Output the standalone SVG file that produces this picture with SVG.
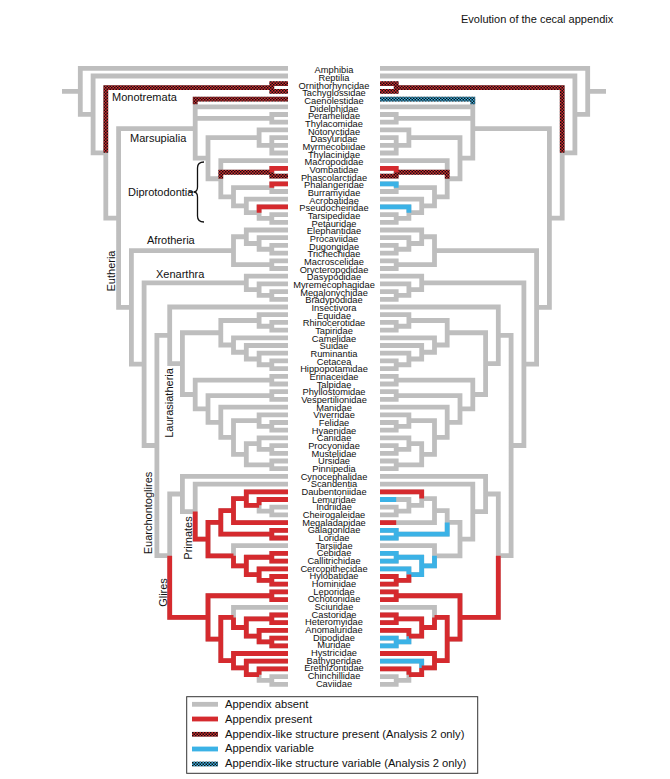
<svg xmlns="http://www.w3.org/2000/svg" xmlns:xlink="http://www.w3.org/1999/xlink" width="670" height="779" viewBox="0 0 670 779">
<style>
.br path,.br use{fill:none;stroke-width:4.8;stroke-linejoin:miter;stroke-linecap:butt}
.g{stroke:#bebebe}
.r{stroke:#d52a2e}
.b{stroke:#3bb2e6}
.cr{stroke:url(#pr)}
.cb{stroke:url(#pb)}
.tip text{font-family:"Liberation Sans",Arial,sans-serif;font-size:9.3px;fill:#111;text-anchor:middle}
.lab{font-family:"Liberation Sans",Arial,sans-serif;font-size:11px;fill:#111}
.leg{font-family:"Liberation Sans",Arial,sans-serif;font-size:11.2px;fill:#111}
</style>
<defs>
<pattern id="pr" width="3" height="3" patternUnits="userSpaceOnUse"><rect width="3" height="3" fill="#d52a2e"/><rect width="1.5" height="1.5" fill="#111"/><rect x="1.5" y="1.5" width="1.5" height="1.5" fill="#111"/></pattern>
<pattern id="pb" width="3" height="3" patternUnits="userSpaceOnUse"><rect width="3" height="3" fill="#3bb2e6"/><rect width="1.5" height="1.5" fill="#111"/><rect x="1.5" y="1.5" width="1.5" height="1.5" fill="#111"/></pattern>
<path id="tree" d="M62 91.35H80.3M80.3 91.35V68.3H288M80.3 91.35V114.4H93.1M93.1 114.4V76H288M93.1 114.4V152.8H105.8M105.8 152.8V87.55H271.8M105.8 152.8V218.05H118.6M271.8 87.55V83.7H288M271.8 87.55V91.4H288
M118.6 218.05V128.65H195.2M118.6 218.05V307.45H131.4
M195.2 128.65V99.1H288M195.2 128.65V106.8H288M195.2 128.65V118.35H271.8M195.2 128.65V158.2H208M271.8 118.35V114.5H288M271.8 118.35V122.2H288
M208 158.2V137.6H259.1M208 158.2V178.75H220.8M259.1 137.6V129.9H288M259.1 137.6V145.3H271.8M271.8 145.3V137.6H288M271.8 145.3H288M271.8 145.3V153H288
M220.8 178.75V160.7H288M220.8 178.75V172.25H271.8M220.8 178.75V196.8H233.5M271.8 172.25V168.4H288M271.8 172.25V176.1H288
M233.5 196.8V187.65H271.8M233.5 196.8V205.9H246.3M271.8 187.65V183.8H288M271.8 187.65V191.5H288M246.3 205.9V199.2H288M246.3 205.9V212.7H259.1M259.1 212.7V206.9H288M259.1 212.7V218.45H271.8M271.8 218.45V214.6H288M271.8 218.45V222.3H288
M131.4 307.45V250.7H233.5M131.4 307.45V364.2H144.1
M233.5 250.7V236.75H246.3M233.5 250.7V264.65H271.8M246.3 236.75V230H288M246.3 236.75V243.5H259.1M259.1 243.5V237.7H288M259.1 243.5V249.25H271.8M271.8 249.25V245.4H288M271.8 249.25V253.1H288M271.8 264.65V260.8H288M271.8 264.65V268.5H288
M144.1 364.2V282.95H246.3M144.1 364.2V445.5H156.9
M246.3 282.95V276.2H288M246.3 282.95V289.7H259.1M259.1 289.7V283.9H288M259.1 289.7V295.45H271.8M271.8 295.45V291.6H288M271.8 295.45V299.3H288
M156.9 445.5V335.3H169.7M156.9 445.5V555.7H169.7
M169.7 335.3V307H288M169.7 335.3V363.6H182.4M182.4 363.6V332.75H220.8M182.4 363.6V394.5H195.2
M220.8 332.75V320.5H259.1M220.8 332.75V345H233.5M259.1 320.5V314.7H288M259.1 320.5V326.25H271.8M271.8 326.25V322.4H288M271.8 326.25V330.1H288
M233.5 345V337.8H288M233.5 345V352.25H246.3M246.3 352.25V345.5H288M246.3 352.25V359H259.1M259.1 359V353.2H288M259.1 359V364.75H271.8M271.8 364.75V360.9H288M271.8 364.75V368.6H288
M195.2 394.5V380.15H271.8M195.2 394.5V408.9H208M271.8 380.15V376.3H288M271.8 380.15V384H288
M208 408.9V395.55H271.8M208 408.9V422.3H220.8M271.8 395.55V391.7H288M271.8 395.55V399.4H288
M220.8 422.3V407.1H288M220.8 422.3V437.45H233.5
M233.5 437.45V420.6H259.1M233.5 437.45V454.3H246.3M259.1 420.6V414.8H288M259.1 420.6V426.35H271.8M271.8 426.35V422.5H288M271.8 426.35V430.2H288
M246.3 454.3V443.7H259.1M246.3 454.3V464.85H271.8M259.1 443.7V437.9H288M259.1 443.7V449.45H271.8M271.8 449.45V445.6H288M271.8 449.45V453.3H288M271.8 464.85V461H288M271.8 464.85V468.7H288
M169.7 555.7V494H182.4M169.7 555.7V617.4H208
M182.4 494V476.4H288M182.4 494V511.6H195.2M195.2 511.6V484.1H288M195.2 511.6V539.1H208
M208 539.1V522.4H220.8M208 539.1V555.8H233.5M220.8 522.4V510.6H233.5M220.8 522.4V534.15H271.8
M233.5 510.6V498.55H246.3M233.5 510.6V522.6H288M246.3 498.55V491.8H288M246.3 498.55V505.3H259.1M259.1 505.3V499.5H288M259.1 505.3V511.05H271.8M271.8 511.05V507.2H288M271.8 511.05V514.9H288M271.8 534.15V530.3H288M271.8 534.15V538H288
M233.5 555.8V545.7H288M233.5 555.8V565.9H246.3M246.3 565.9V557.25H271.8M246.3 565.9V574.6H259.1M271.8 557.25V553.4H288M271.8 557.25V561.1H288M259.1 574.6V568.8H288M259.1 574.6V580.35H271.8M271.8 580.35V576.5H288M271.8 580.35V584.2H288
M208 617.4V595.75H271.8M208 617.4V639.05H220.8M271.8 595.75V591.9H288M271.8 595.75V599.6H288
M220.8 639.05V617.4H233.5M220.8 639.05V660.7H233.5M233.5 617.4V607.3H288M233.5 617.4V627.5H246.3
M246.3 627.5V618.85H271.8M246.3 627.5V636.2H259.1M271.8 618.85V615H288M271.8 618.85V622.7H288M259.1 636.2V630.4H288M259.1 636.2V641.95H271.8M271.8 641.95V638.1H288M271.8 641.95V645.8H288
M233.5 660.7V653.5H288M233.5 660.7V667.95H246.3M246.3 667.95V661.2H288M246.3 667.95V674.7H259.1M259.1 674.7V668.9H288M259.1 674.7V680.45H271.8M271.8 680.45V676.6H288M271.8 680.45V684.3H288"/>
</defs>
<rect width="670" height="779" fill="#fff"/>
<text x="461" y="22.5" class="lab" fill="#222">Evolution of the cecal appendix</text>

<g id="connectors" class="br">
 <g id="left-tree">
  <use xlink:href="#tree" class="g"/>
  <path class="cr" d="M105.8 152.8V87.55H271.8M271.8 87.55V83.7H288M271.8 87.55V91.4H288M195.2 104.3V99.1H288M220.8 178.75V172.25H271.8M271.8 172.25V176.1H288"/>
  <path class="r" d="M271.8 172.25V168.4H288M271.8 187.65V183.8H288M259.1 212.7V206.9H288
M195.2 511.6V539.1H208M208 539.1V522.4H220.8M208 539.1V555.8H233.5M220.8 522.4V510.6H233.5M220.8 522.4V534.15H271.8M233.5 510.6V498.55H246.3M233.5 510.6V522.6H288M246.3 498.55V491.8H288M246.3 498.55V505.3H259.1M259.1 505.3V499.5H288M271.8 534.15V530.3H288M271.8 534.15V538H288
M233.5 555.8V565.9H246.3M246.3 565.9V557.25H271.8M246.3 565.9V574.6H259.1M271.8 557.25V553.4H288M271.8 557.25V561.1H288M259.1 574.6V568.8H288M259.1 574.6V580.35H271.8M271.8 580.35V576.5H288M271.8 580.35V584.2H288
M169.7 555.7V617.4H208M208 617.4V595.75H271.8M208 617.4V639.05H220.8M271.8 595.75V591.9H288M271.8 595.75V599.6H288M220.8 639.05V617.4H233.5M220.8 639.05V660.7H233.5M233.5 617.4V627.5H246.3M246.3 627.5V618.85H271.8M246.3 627.5V636.2H259.1M271.8 618.85V615H288M271.8 618.85V622.7H288M259.1 636.2V630.4H288M259.1 636.2V641.95H271.8M271.8 641.95V638.1H288M271.8 641.95V645.8H288M233.5 660.7V653.5H288M233.5 660.7V667.95H246.3M246.3 667.95V661.2H288M246.3 667.95V674.7H259.1M259.1 674.7V668.9H288"/>
 </g>
 <g id="right-tree" transform="matrix(-1 0 0 1 668 0)">
  <use xlink:href="#tree" class="g"/>
  <path class="cr" d="M105.8 152.8V87.55H271.8M271.8 87.55V83.7H288M271.8 87.55V91.4H288M220.8 178.75V172.25H271.8M271.8 172.25V176.1H288"/>
  <path class="cb" d="M195.2 104.3V99.1H288"/>
  <path class="b" d="M271.8 187.65V183.8H288M259.1 212.7V206.9H288M271.8 499.5H288M220.8 522.4V534.15H271.8M271.8 534.15V530.3H288M271.8 534.15V538H288M233.5 555.8V565.9H246.3M246.3 565.9V557.25H271.8M271.8 557.25V553.4H288M271.8 557.25V561.1H288M246.3 565.9V574.6H259.1M259.1 574.6V568.8H288M259.1 636.2V641.95H271.8M271.8 641.95V638.1H288M271.8 641.95V645.8H288M246.3 667.95V661.2H288"/>
  <path class="r" d="M271.8 172.25V168.4H288M246.3 498.55V491.8H288M271.8 522.6H288M259.1 574.6V580.35H271.8M271.8 580.35V576.5H288M271.8 580.35V584.2H288
M169.7 555.7V617.4H208M208 617.4V595.75H271.8M208 617.4V639.05H220.8M271.8 595.75V591.9H288M271.8 595.75V599.6H288M220.8 639.05V617.4H233.5M220.8 639.05V660.7H233.5M233.5 617.4V627.5H246.3M246.3 627.5V618.85H271.8M246.3 627.5V636.2H259.1M271.8 618.85V615H288M271.8 618.85V622.7H288M259.1 636.2V630.4H288M233.5 660.7V653.5H288M233.5 660.7V667.95H246.3M246.3 667.95V674.7H259.1M259.1 674.7V668.9H288"/>
 </g>
 <path d="M188.5 192H193M204 162Q197.5 162 197.5 168V187Q197.5 192 193.5 192Q197.5 192 197.5 197V216Q197.5 222 204 222" style="stroke:#111;stroke-width:1.3"/>
</g>

<g id="clade-labels" class="lab">
 <text id="Monotremata" x="112" y="101" class="lab">Monotremata</text>
 <text id="Marsupialia" x="130" y="142" class="lab">Marsupialia</text>
 <text id="Diprotodontia" x="128" y="196" class="lab">Diprotodontia</text>
 <text id="Afrotheria" x="147" y="244" class="lab">Afrotheria</text>
 <text id="Xenarthra" x="156" y="278" class="lab">Xenarthra</text>
 <text id="Eutheria" transform="translate(115 271) rotate(-90)" text-anchor="middle" class="lab">Eutheria</text>
 <text id="Laurasiatheria" transform="translate(173 403) rotate(-90)" text-anchor="middle" class="lab">Laurasiatheria</text>
 <text id="Euarchontoglires" transform="translate(151.5 513) rotate(-90)" text-anchor="middle" class="lab">Euarchontoglires</text>
 <text id="Primates" transform="translate(192 538) rotate(-90)" text-anchor="middle" class="lab">Primates</text>
 <text id="Glires" transform="translate(167 592.5) rotate(-90)" text-anchor="middle" class="lab">Glires</text>
</g>

<g class="tip">
<g id="Amphibia"><text x="334" y="73.3">Amphibia</text></g>
<g id="Reptilia"><text x="334" y="81">Reptilia</text></g>
<g id="Ornithorhyncidae"><text x="334" y="88.6">Ornithorhyncidae</text></g>
<g id="Tachyglossidae"><text x="334" y="96.3">Tachyglossidae</text></g>
<g id="Caenolestidae"><text x="334" y="104">Caenolestidae</text></g>
<g id="Didelphidae"><text x="334" y="111.6">Didelphidae</text></g>
<g id="Peramelidae"><text x="334" y="119.3">Peramelidae</text></g>
<g id="Thylacomidae"><text x="334" y="127">Thylacomidae</text></g>
<g id="Notoryctidae"><text x="334" y="134.6">Notoryctidae</text></g>
<g id="Dasyuridae"><text x="334" y="142.3">Dasyuridae</text></g>
<g id="Myrmecobiidae"><text x="334" y="150">Myrmecobiidae</text></g>
<g id="Thylacinidae"><text x="334" y="157.6">Thylacinidae</text></g>
<g id="Macropodidae"><text x="334" y="165.3">Macropodidae</text></g>
<g id="Vombatidae"><text x="334" y="172.9">Vombatidae</text></g>
<g id="Phascolarctidae"><text x="334" y="180.6">Phascolarctidae</text></g>
<g id="Phalangeridae"><text x="334" y="188.3">Phalangeridae</text></g>
<g id="Burramyidae"><text x="334" y="195.9">Burramyidae</text></g>
<g id="Acrobatidae"><text x="334" y="203.6">Acrobatidae</text></g>
<g id="Pseudocheiridae"><text x="334" y="211.3">Pseudocheiridae</text></g>
<g id="Tarsipedidae"><text x="334" y="218.9">Tarsipedidae</text></g>
<g id="Petauridae"><text x="334" y="226.6">Petauridae</text></g>
<g id="Elephantidae"><text x="334" y="234.3">Elephantidae</text></g>
<g id="Procaviidae"><text x="334" y="241.9">Procaviidae</text></g>
<g id="Dugongidae"><text x="334" y="249.6">Dugongidae</text></g>
<g id="Trichechidae"><text x="334" y="257.3">Trichechidae</text></g>
<g id="Macroscelidae"><text x="334" y="264.9">Macroscelidae</text></g>
<g id="Orycteropodidae"><text x="334" y="272.6">Orycteropodidae</text></g>
<g id="Dasypodidae"><text x="334" y="280.3">Dasypodidae</text></g>
<g id="Myremecophagidae"><text x="334" y="287.9">Myremecophagidae</text></g>
<g id="Megalonychidae"><text x="334" y="295.6">Megalonychidae</text></g>
<g id="Bradypodidae"><text x="334" y="303.3">Bradypodidae</text></g>
<g id="Insectivora"><text x="334" y="310.9">Insectivora</text></g>
<g id="Equidae"><text x="334" y="318.6">Equidae</text></g>
<g id="Rhinocerotidae"><text x="334" y="326.2">Rhinocerotidae</text></g>
<g id="Tapiridae"><text x="334" y="333.9">Tapiridae</text></g>
<g id="Camelidae"><text x="334" y="341.6">Camelidae</text></g>
<g id="Suidae"><text x="334" y="349.2">Suidae</text></g>
<g id="Ruminantia"><text x="334" y="356.9">Ruminantia</text></g>
<g id="Cetacea"><text x="334" y="364.6">Cetacea</text></g>
<g id="Hippopotamidae"><text x="334" y="372.2">Hippopotamidae</text></g>
<g id="Erinaceidae"><text x="334" y="379.9">Erinaceidae</text></g>
<g id="Talpidae"><text x="334" y="387.6">Talpidae</text></g>
<g id="Phyllostomidae"><text x="334" y="395.2">Phyllostomidae</text></g>
<g id="Vespertilionidae"><text x="334" y="402.9">Vespertilionidae</text></g>
<g id="Manidae"><text x="334" y="410.6">Manidae</text></g>
<g id="Viverridae"><text x="334" y="418.2">Viverridae</text></g>
<g id="Felidae"><text x="334" y="425.9">Felidae</text></g>
<g id="Hyaenidae"><text x="334" y="433.6">Hyaenidae</text></g>
<g id="Canidae"><text x="334" y="441.2">Canidae</text></g>
<g id="Procyonidae"><text x="334" y="448.9">Procyonidae</text></g>
<g id="Mustelidae"><text x="334" y="456.6">Mustelidae</text></g>
<g id="Ursidae"><text x="334" y="464.2">Ursidae</text></g>
<g id="Pinnipedia"><text x="334" y="471.9">Pinnipedia</text></g>
<g id="Cynocephalidae"><text x="334" y="479.6">Cynocephalidae</text></g>
<g id="Scandentia"><text x="334" y="487.2">Scandentia</text></g>
<g id="Daubentoniidae"><text x="334" y="494.9">Daubentoniidae</text></g>
<g id="Lemuridae"><text x="334" y="502.6">Lemuridae</text></g>
<g id="Indriidae"><text x="334" y="510.2">Indriidae</text></g>
<g id="Cheirogaleidae"><text x="334" y="517.9">Cheirogaleidae</text></g>
<g id="Megaladapidae"><text x="334" y="525.6">Megaladapidae</text></g>
<g id="Galagonidae"><text x="334" y="533.2">Galagonidae</text></g>
<g id="Loridae"><text x="334" y="540.9">Loridae</text></g>
<g id="Tarsiidae"><text x="334" y="548.6">Tarsiidae</text></g>
<g id="Cebidae"><text x="334" y="556.2">Cebidae</text></g>
<g id="Callitrichidae"><text x="334" y="563.9">Callitrichidae</text></g>
<g id="Cercopithecidae"><text x="334" y="571.6">Cercopithecidae</text></g>
<g id="Hylobatidae"><text x="334" y="579.2">Hylobatidae</text></g>
<g id="Hominidae"><text x="334" y="586.9">Hominidae</text></g>
<g id="Leporidae"><text x="334" y="594.6">Leporidae</text></g>
<g id="Ochotonidae"><text x="334" y="602.2">Ochotonidae</text></g>
<g id="Sciuridae"><text x="334" y="609.9">Sciuridae</text></g>
<g id="Castoridae"><text x="334" y="617.6">Castoridae</text></g>
<g id="Heteromyidae"><text x="334" y="625.2">Heteromyidae</text></g>
<g id="Anomaluridae"><text x="334" y="632.9">Anomaluridae</text></g>
<g id="Dipodidae"><text x="334" y="640.6">Dipodidae</text></g>
<g id="Muridae"><text x="334" y="648.2">Muridae</text></g>
<g id="Hystricidae"><text x="334" y="655.9">Hystricidae</text></g>
<g id="Bathygeridae"><text x="334" y="663.6">Bathygeridae</text></g>
<g id="Erethizontidae"><text x="334" y="671.2">Erethizontidae</text></g>
<g id="Chinchillidae"><text x="334" y="678.9">Chinchillidae</text></g>
<g id="Caviidae"><text x="334" y="686.6">Caviidae</text></g>
</g>

<g id="legend">
 <rect x="186.7" y="696.7" width="291" height="76.6" fill="#fff" stroke="#333" stroke-width="1"/>
 <g class="br">
  <path class="g" d="M192 704.3H218"/>
  <path class="r" d="M192 719H218"/>
  <path class="cr" d="M192 734.3H218"/>
  <path class="b" d="M192 749H218"/>
  <path class="cb" d="M192 764H218"/>
 </g>
 <text x="225" y="707.8" class="leg">Appendix absent</text>
 <text x="225" y="722.6" class="leg">Appendix present</text>
 <text x="225" y="737.7" class="leg">Appendix-like structure present (Analysis 2 only)</text>
 <text x="225" y="751.8" class="leg">Appendix variable</text>
 <text x="225" y="766.7" class="leg">Appendix-like structure variable (Analysis 2 only)</text>
</g>
</svg>
